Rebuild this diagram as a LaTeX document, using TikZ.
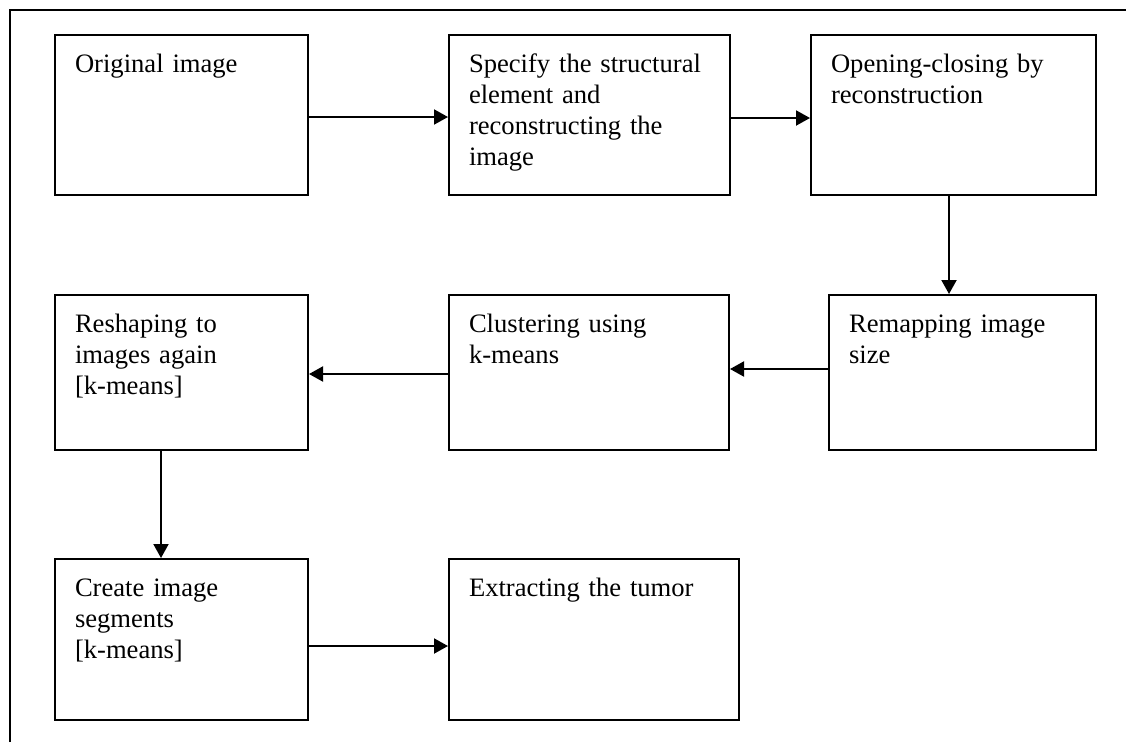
\documentclass[tikz,border=0pt]{standalone}
\usepackage{fontspec}
\setmainfont{Liberation Serif}
\usepackage{tikz}
\usetikzlibrary{arrows.meta}

\begin{document}
\begin{tikzpicture}[x=1pt, y=-1pt, line width=2pt, >={Triangle[length=14pt,width=15pt]}, every node/.style={draw, anchor=north west, align=left, inner xsep=20pt, inner ysep=0pt, text height=37pt, font=\fontsize{26.6}{31.3}\selectfont}]
				\useasboundingbox (0,0) rectangle (1126,742);
				\draw (10,742) -- (10,10) -- (1126,10);
				\node (original) at (54,34) [text width=213pt, text depth=123pt] {Original image};
				\node (specify) at (448,34) [text width=241pt, text depth=123pt] {Specify the structural\\element and\\reconstructing the\\image};
				\node (opening) at (810,34) [text width=245pt, text depth=123pt] {Opening-closing by\\reconstruction};
				\node (remapping) at (828,294) [text width=227pt, text depth=118pt] {Remapping image\\size};
				\node (clustering) at (448,294) [text width=240pt, text depth=118pt] {Clustering using\\k-means};
				\node (reshaping) at (54,294) [text width=213pt, text depth=118pt] {Reshaping to\\images again\\{[k-means]}};
				\node (create) at (54,558) [text width=213pt, text depth=124pt] {Create image\\segments\\{[k-means]}};
				\node (extracting) at (448,558) [text width=250pt, text depth=124pt] {Extracting the tumor};
				\draw[->] ([yshift=-2pt]original.east) -- ([yshift=-2pt]specify.west);
				\draw[->] ([yshift=-3pt]specify.east) -- ([yshift=-3pt]opening.west);
				\draw[->] ([xshift=-4.5pt]opening.south) -- ([xshift=-4.5pt]opening.south |- remapping.north);
				\draw[->] ([yshift=3.5pt]remapping.west) -- ([yshift=3.5pt]remapping.west -| clustering.east);
				\draw[->] ([yshift=-1.5pt]clustering.west) -- ([yshift=-1.5pt]clustering.west -| reshaping.east);
				\draw[->] ([xshift=-20.5pt]reshaping.south) -- ([xshift=-20.5pt]create.north);
				\draw[->] ([yshift=-6.5pt]create.east) -- ([yshift=-6.5pt]extracting.west);
			\end{tikzpicture}
\end{document}
